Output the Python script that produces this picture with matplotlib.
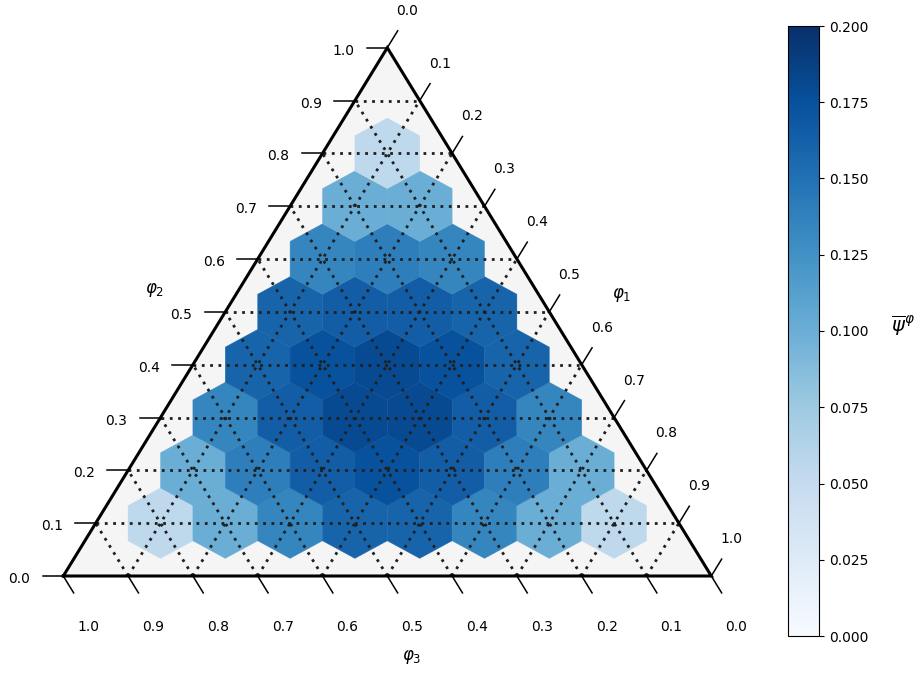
import numpy as np
import matplotlib
matplotlib.use("Agg")
import matplotlib.pyplot as plt
from matplotlib.collections import PolyCollection
from matplotlib.colors import Normalize

SCALE = 10
H = np.sqrt(3) / 2

# mean psi at the interior lattice points, one list per phi2 level (phi1 index runs 1..)
psi_phi2_1 = [0.055, 0.100, 0.135, 0.160, 0.160, 0.135, 0.100, 0.055]
psi_phi2_2 = [0.100, 0.140, 0.165, 0.175, 0.165, 0.140, 0.100]
psi_phi2_3 = [0.135, 0.165, 0.180, 0.180, 0.165, 0.135]
psi_phi2_4 = [0.160, 0.175, 0.180, 0.175, 0.160]
psi_phi2_5 = [0.160, 0.165, 0.165, 0.160]
psi_phi2_6 = [0.135, 0.140, 0.135]
psi_phi2_7 = [0.100, 0.100]
psi_phi2_8 = [0.055]
rows = [psi_phi2_1, psi_phi2_2, psi_phi2_3, psi_phi2_4,
        psi_phi2_5, psi_phi2_6, psi_phi2_7, psi_phi2_8]

tick_labels = ["%.1f" % (t / SCALE) for t in range(SCALE + 1)]
vmin, vmax = 0.0, 0.2


def project(p1, p2):
    return p1 + p2 / 2.0, p2 * H


fig = plt.figure(figsize=(9.17, 6.73), dpi=100)

# main axes spans the whole figure, limits set so the triangle lands in place
x0_px, y0_px, sx, sy = 63.3, 576.0, 64.8, 61.0
ax = fig.add_axes([0, 0, 1, 1])
ax.set_xlim(-x0_px / sx, (917 - x0_px) / sx)
ax.set_ylim(-(673 - y0_px) / sy, y0_px / sy)
ax.axis("off")

corners = np.array([project(0, 0), project(SCALE, 0), project(0, SCALE)])
ax.fill(corners[:, 0], corners[:, 1], color="#f5f5f5", zorder=0)

# hexagons around each interior point
hx = [(0.5, 0.5 / np.sqrt(3)), (0, 1 / np.sqrt(3)), (-0.5, 0.5 / np.sqrt(3)),
      (-0.5, -0.5 / np.sqrt(3)), (0, -1 / np.sqrt(3)), (0.5, -0.5 / np.sqrt(3))]
polys, vals = [], []
for j, row in enumerate(rows, start=1):
    for i, v in enumerate(row, start=1):
        cx, cy = project(i, j)
        polys.append([(cx + dx, cy + dy) for dx, dy in hx])
        vals.append(v)
pc = PolyCollection(polys, cmap="Blues", norm=Normalize(vmin, vmax),
                    edgecolors="face", linewidths=0.3, zorder=1)
pc.set_array(np.array(vals))
ax.add_collection(pc)

# dotted gridlines
grid_kw = dict(color="0.12", lw=2.0, linestyle=(0, (1, 2.0)), zorder=2)
for t in range(1, SCALE):
    for a, b in [((0, t), (SCALE - t, t)),
                 ((t, 0), (t, SCALE - t)),
                 ((SCALE - t, 0), (0, SCALE - t))]:
        xa, ya = project(*a)
        xb, yb = project(*b)
        ax.plot([xa, xb], [ya, yb], **grid_kw)

# boundary
bx = list(corners[:, 0]) + [corners[0, 0]]
by = list(corners[:, 1]) + [corners[0, 1]]
ax.plot(bx, by, color="k", lw=2.2, zorder=3, solid_joinstyle="miter")

# ticks and tick labels
tl = 0.32
for t in range(SCALE + 1):
    # left axis: phi2
    x, y = project(0, t)
    ax.plot([x, x - tl], [y, y], color="k", lw=1.1, zorder=3, clip_on=False)
    ax.text(x - 44 / sx, y - 3 / sy, tick_labels[t], ha="center", va="center", fontsize=10)
    # bottom axis: phi3 (1.0 at the left)
    x, y = project(t, 0)
    ax.plot([x, x + tl * 0.5], [y, y - tl * H], color="k", lw=1.1, zorder=3)
    ax.text(x + 25 / sx, y - 51 / sy, tick_labels[SCALE - t], ha="center", va="center", fontsize=10)
    # right axis: phi1 (0.0 at the top)
    x, y = project(t, SCALE - t)
    ax.plot([x, x + tl * 0.5], [y, y + tl * H], color="k", lw=1.1, zorder=3)
    ax.text(x + 20 / sx, y + 37 / sy, tick_labels[t], ha="center", va="center", fontsize=10)

ax.text((155 - x0_px) / sx, (y0_px - 290) / sy, r"$\varphi_2$", ha="center", va="center", fontsize=12)
ax.text((622 - x0_px) / sx, (y0_px - 295) / sy, r"$\varphi_1$", ha="center", va="center", fontsize=12)
ax.text((412 - x0_px) / sx, (y0_px - 657) / sy, r"$\varphi_3$", ha="center", va="center", fontsize=12)

# colorbar
cax = fig.add_axes([788 / 917, 37 / 673, 31 / 917, 610 / 673])
sm = plt.cm.ScalarMappable(norm=Normalize(vmin, vmax), cmap="Blues")
cb = fig.colorbar(sm, cax=cax)
cb.set_ticks(np.arange(0, 0.2001, 0.025))
cb.ax.set_yticklabels(["%.3f" % v for v in np.arange(0, 0.2001, 0.025)])
cb.ax.tick_params(labelsize=10)
fig.text(903 / 917, 1 - 326 / 673, r"$\overline{\psi}^{\varphi}$", ha="center", va="center", fontsize=14)

fig.savefig("out.png", dpi=100)
